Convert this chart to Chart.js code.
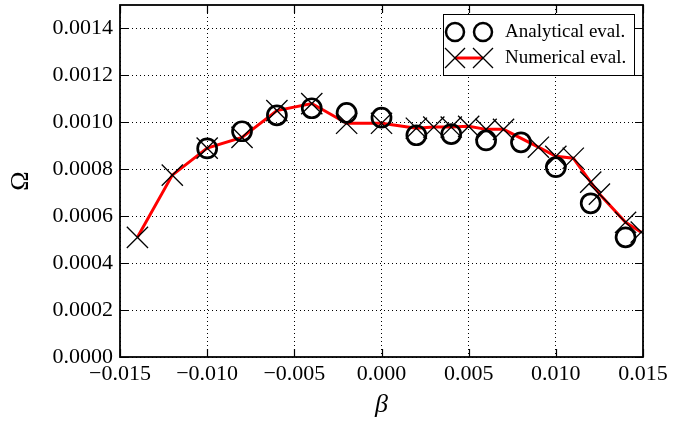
<!DOCTYPE html>
<html>
<head>
<meta charset="UTF-8">
<title>Omega vs beta</title>
<script src="https://cdn.jsdelivr.net/npm/chart.js"></script>
<style>
  body { margin: 0; background: #fff; }
  canvas { display: block; }
</style>
</head>
<body>
<canvas id="omegaChart" width="695" height="426"></canvas>
<script>
// --- data ---
const betaAnalytical  = [-0.010, -0.008, -0.006, -0.004, -0.002, 0.000, 0.002, 0.004, 0.006, 0.008, 0.010, 0.012, 0.014];
const omegaAnalytical = [0.000889, 0.000962, 0.00103, 0.00106, 0.00104, 0.00102, 0.000945, 0.00095, 0.000923, 0.000915, 0.000809, 0.000655, 0.00051];

const betaNumerical  = [-0.014, -0.012, -0.010, -0.008, -0.006, -0.004, -0.002, 0.000, 0.002, 0.003, 0.004, 0.005, 0.006, 0.007, 0.009, 0.010, 0.011, 0.012, 0.0125, 0.014, 0.0149];
const omegaNumerical = [0.00051, 0.000775, 0.00089, 0.000936, 0.00105, 0.00108, 0.000996, 0.000996, 0.000975, 0.00098, 0.00098, 0.000983, 0.00097, 0.00097, 0.000894, 0.000855, 0.000847, 0.000745, 0.000694, 0.000574, 0.000532];

const xTicks = [-0.015, -0.010, -0.005, 0.000, 0.005, 0.010, 0.015];
const yTicks = [0.0000, 0.0002, 0.0004, 0.0006, 0.0008, 0.0010, 0.0012, 0.0014];

const legendLabels = ['Analytical eval.', 'Numerical eval.'];

const SERIF = '"Liberation Serif", "Times New Roman", serif';
const TICK = 8;

// matplotlib-style frame with inward ticks on all four sides, plus the legend box
const frameAndLegend = {
  id: 'frameAndLegend',
  afterDraw(chart) {
    const { ctx, chartArea: a, scales: { x, y } } = chart;
    ctx.save();
    ctx.strokeStyle = '#000';
    ctx.lineWidth = 1.2;
    ctx.beginPath();
    x.ticks.forEach(t => {
      const px = Math.round(x.getPixelForValue(t.value)) + 0.5;
      ctx.moveTo(px, a.bottom); ctx.lineTo(px, a.bottom - TICK);
      ctx.moveTo(px, a.top); ctx.lineTo(px, a.top + TICK);
    });
    y.ticks.forEach(t => {
      const py = Math.round(y.getPixelForValue(t.value)) + 0.5;
      ctx.moveTo(a.left, py); ctx.lineTo(a.left + TICK, py);
      ctx.moveTo(a.right, py); ctx.lineTo(a.right - TICK, py);
    });
    ctx.stroke();
    ctx.lineWidth = 1.8;
    ctx.strokeRect(a.left, a.top, a.right - a.left, a.bottom - a.top);

    // legend
    const bw = 191, bh = 61;
    const bx = a.right - 9 - bw, by = a.top + 9;
    ctx.fillStyle = '#fff';
    ctx.fillRect(bx, by, bw, bh);
    ctx.lineWidth = 1;
    ctx.strokeRect(bx + 0.5, by + 0.5, bw, bh);

    const m1 = bx + 12, m2 = bx + 40, r1 = by + 18, r2 = by + 44;
    // circles
    ctx.lineWidth = 2.5;
    [m1, m2].forEach(mx => {
      ctx.beginPath(); ctx.arc(mx, r1, 9, 0, Math.PI * 2); ctx.stroke();
    });
    // red line + crosses
    ctx.strokeStyle = '#ff0000';
    ctx.lineWidth = 3;
    ctx.beginPath(); ctx.moveTo(m1, r2); ctx.lineTo(m2, r2); ctx.stroke();
    ctx.strokeStyle = '#000';
    ctx.lineWidth = 1.3;
    const c = 10;
    [m1, m2].forEach(mx => {
      ctx.beginPath();
      ctx.moveTo(mx - c, r2 - c); ctx.lineTo(mx + c, r2 + c);
      ctx.moveTo(mx - c, r2 + c); ctx.lineTo(mx + c, r2 - c);
      ctx.stroke();
    });

    ctx.fillStyle = '#000';
    ctx.font = '19px ' + SERIF;
    ctx.textBaseline = 'middle';
    ctx.fillText(legendLabels[0], bx + 62, r1);
    ctx.fillText(legendLabels[1], bx + 62, r2);
    ctx.restore();
  }
};

const fmtX = v => (v < 0 ? '\u2212' : '') + Math.abs(v).toFixed(3);
const fmtY = v => v.toFixed(4);

new Chart(document.getElementById('omegaChart'), {
  type: 'line',
  data: {
    datasets: [
      {
        label: legendLabels[0],
        data: betaAnalytical.map((b, i) => ({ x: b, y: omegaAnalytical[i] })),
        showLine: false,
        pointStyle: 'circle',
        pointRadius: 9.5,
        pointBorderWidth: 2.7,
        pointBorderColor: '#000',
        pointBackgroundColor: 'rgba(0,0,0,0)',
        borderColor: '#000'
      },
      {
        label: legendLabels[1],
        data: betaNumerical.map((b, i) => ({ x: b, y: omegaNumerical[i] })),
        borderColor: '#ff0000',
        borderWidth: 3,
        tension: 0,
        fill: false,
        pointStyle: 'crossRot',
        pointRadius: 15,
        pointBorderColor: '#000',
        pointBorderWidth: 1.3,
        clip: 0
      }
    ]
  },
  options: {
    responsive: false,
    animation: false,
    layout: { autoPadding: false, padding: { left: 0, top: 5, right: 52, bottom: 0 } },
    plugins: { legend: { display: false }, tooltip: { enabled: false } },
    scales: {
      x: {
        type: 'linear',
        min: -0.015,
        max: 0.015,
        afterBuildTicks: s => { s.ticks = xTicks.map(v => ({ value: v })); },
        afterFit: s => { s.height = 69; s.paddingLeft = 0; s.paddingRight = 0; },
        ticks: {
          callback: v => fmtX(v),
          color: '#000',
          font: { family: SERIF, size: 22 },
          padding: 4,
          maxRotation: 0,
          autoSkip: false
        },
        grid: { color: '#000', lineWidth: 1, drawTicks: false },
        border: { display: false, dash: [1, 3] },
        title: {
          display: true,
          text: 'β',
          color: '#000',
          font: { family: SERIF, size: 26, style: 'italic' },
          padding: { top: 0, bottom: 5 }
        }
      },
      y: {
        type: 'linear',
        min: 0,
        max: 0.0015,
        afterBuildTicks: s => { s.ticks = yTicks.map(v => ({ value: v })); },
        afterFit: s => { s.width = 120; s.paddingTop = 0; s.paddingBottom = 0; },
        ticks: {
          callback: v => fmtY(v),
          color: '#000',
          font: { family: SERIF, size: 22 },
          padding: 7,
          autoSkip: false
        },
        grid: { color: '#000', lineWidth: 1, drawTicks: false },
        border: { display: false, dash: [1, 3] },
        title: {
          display: true,
          text: 'Ω',
          color: '#000',
          font: { family: SERIF, size: 26 },
          padding: { top: 6, bottom: 0 }
        }
      }
    }
  },
  plugins: [frameAndLegend]
});
</script>
</body>
</html>
